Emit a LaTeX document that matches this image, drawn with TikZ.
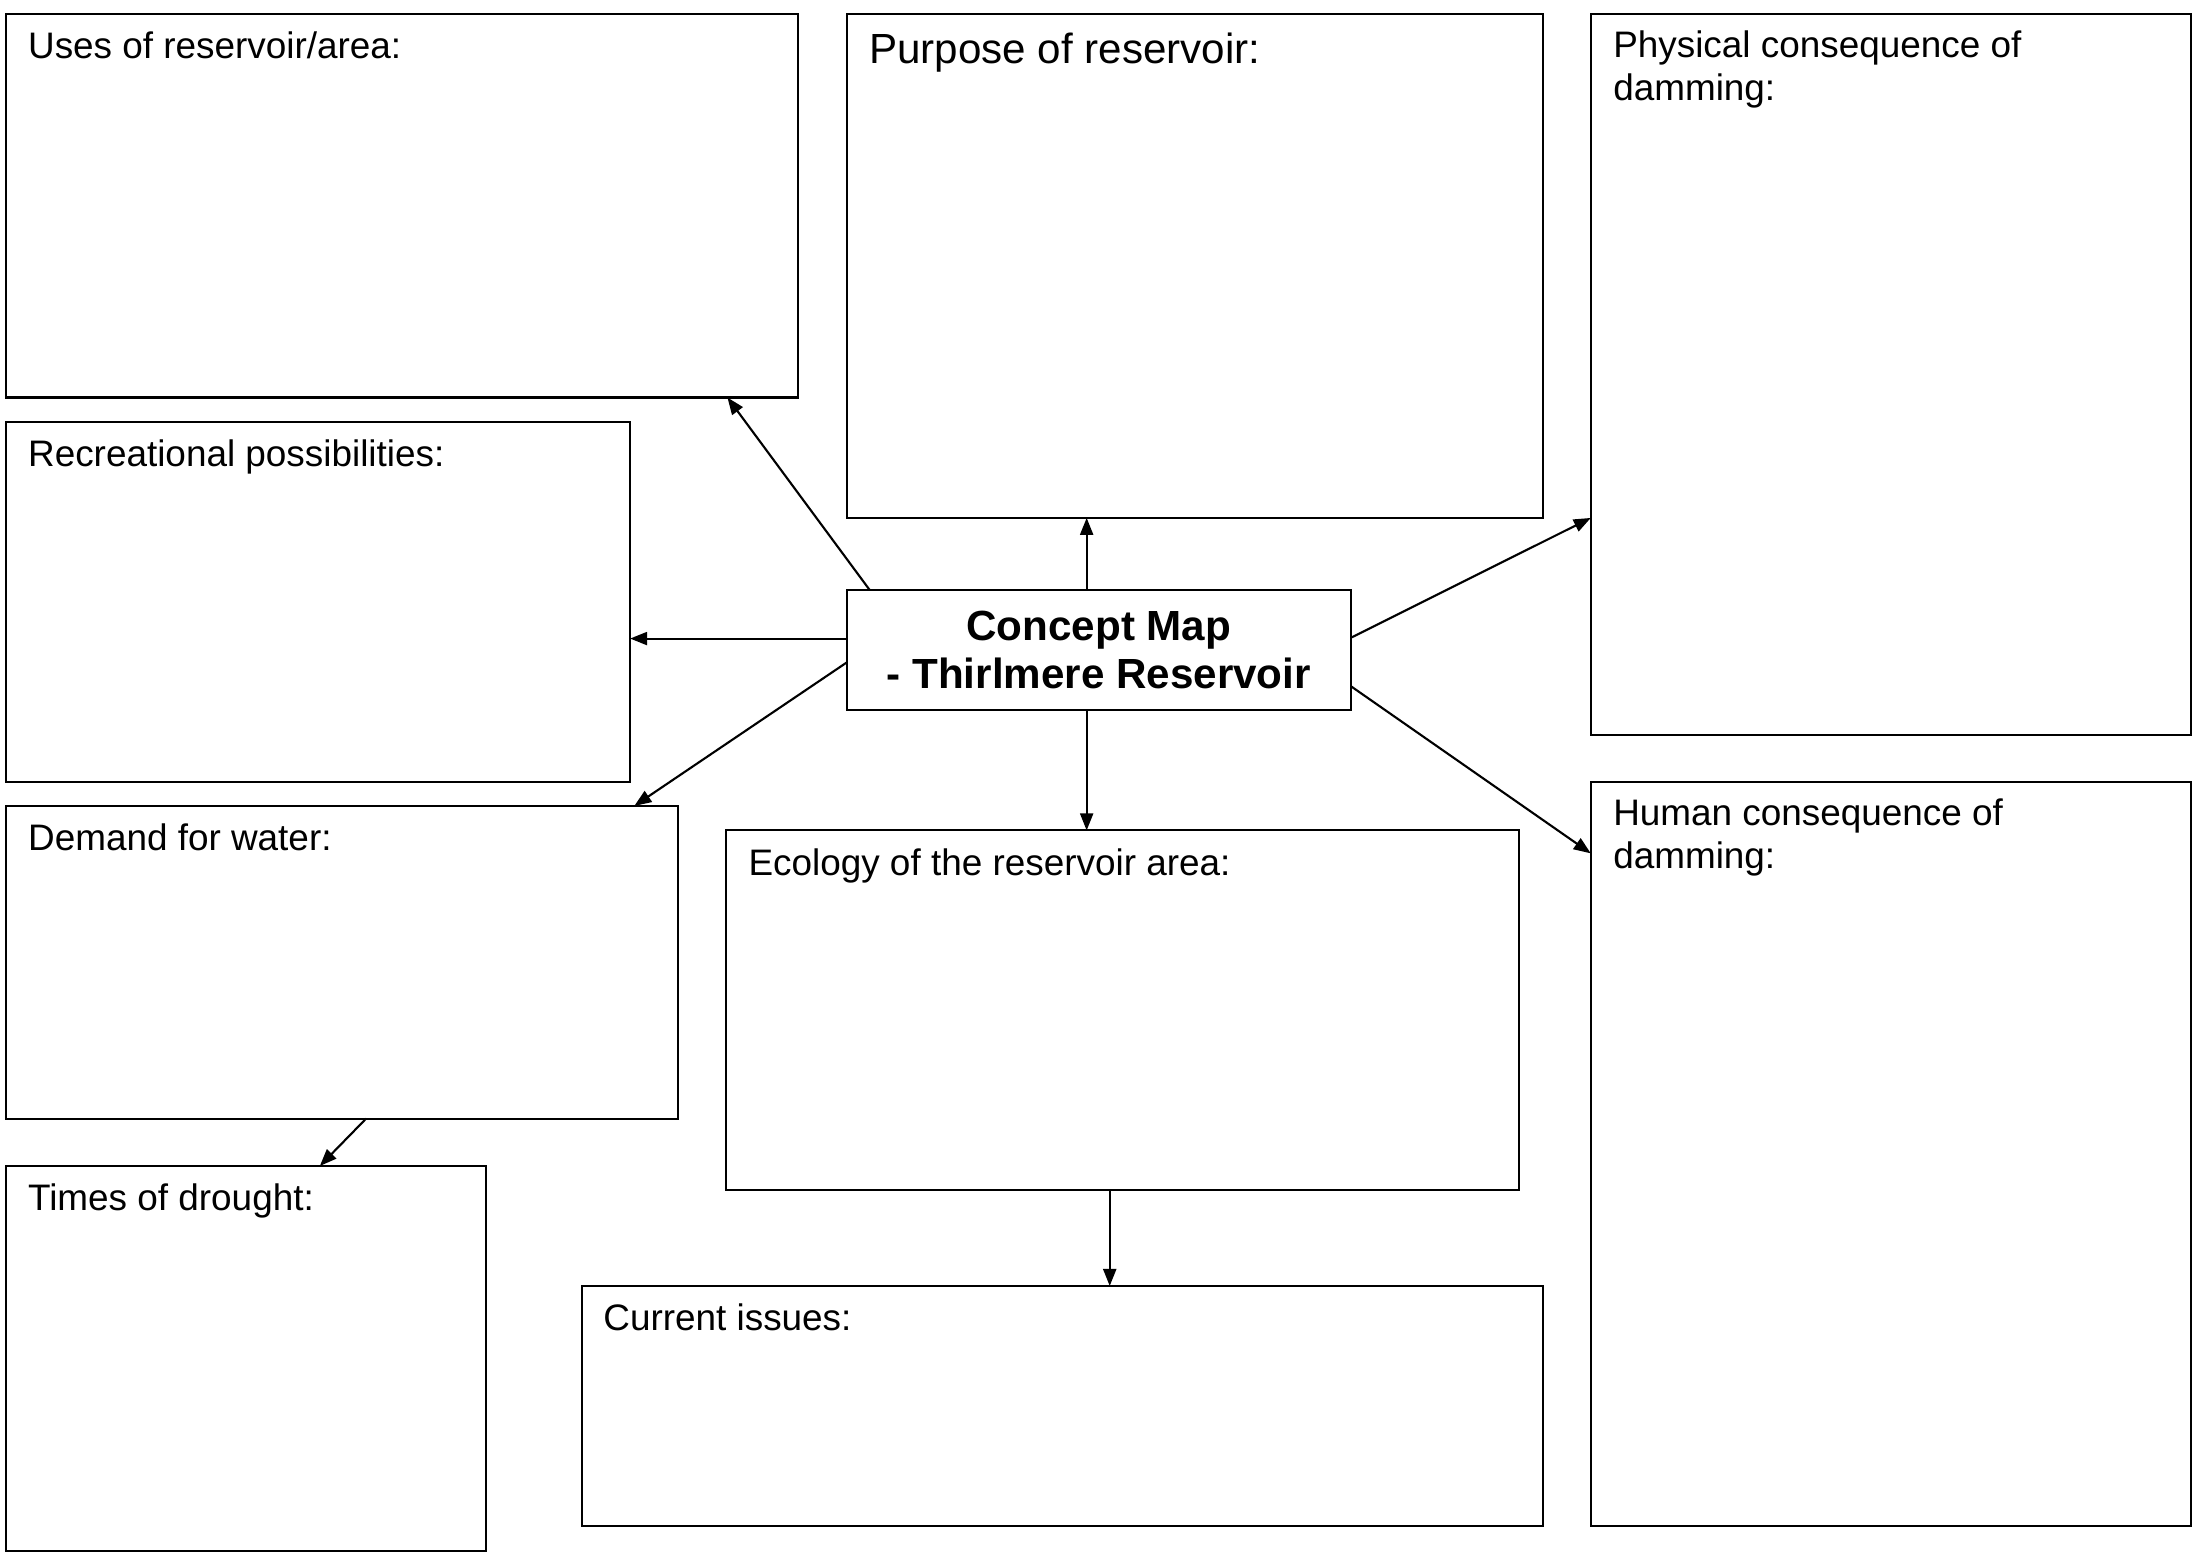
\documentclass[tikz,border=0pt]{standalone}
\usepackage{fontspec}
\setmainfont{Liberation Sans}
\usetikzlibrary{arrows.meta,calc}
\def\uu{0.014065cm}
\newcommand\mkbox[5]{\node[bx, minimum width={(#4-#2)*\uu}, minimum height={(#5-#3)*\uu}] (#1) at ({(#2+#4)/2},{(#3+#5)/2}) {};}
\begin{document}
\begin{tikzpicture}[x=\uu, y=-\uu,
  bx/.style={draw, line width=0.6pt, inner sep=0pt, outer sep=0pt},
  lbl/.style={font=\fontsize{10.5}{12.2}\selectfont, inner sep=0pt, outer sep=0pt, align=left, anchor=base west},
  arr/.style={line width=0.6pt, -{Triangle[length=0.17cm,width=0.13cm]}}]
\useasboundingbox (0,0) rectangle (1564.9,1108.4);
\mkbox{uses}{4}{9.8}{567.6}{282.6}
\mkbox{purpose}{602}{9.8}{1097}{368.2}
\mkbox{physical}{1131}{9.8}{1558}{522.3}
\mkbox{rec}{4}{300}{448}{556}
\mkbox{demand}{4}{573}{482.3}{795.3}
\mkbox{ecology}{516.2}{590.4}{1080}{846.1}
\mkbox{human}{1131}{555.9}{1558}{1084.8}
\mkbox{times}{4}{829}{345.6}{1102.5}
\mkbox{current}{414}{914.3}{1097}{1084.8}
\node[bx, align=center, font=\fontsize{12}{13.6}\selectfont\bfseries,
  minimum width={358.5*\uu}, minimum height={85.2*\uu}] (cm) at (781.25,462.3)
  {Concept Map\\- Thirlmere Reservoir};
\node[lbl] (usesT) at ($(uses.north west)+(16,32)$) {Uses of reservoir/area:};
\node[lbl, font=\fontsize{12}{14}\selectfont] (purposeT) at ($(purpose.north west)+(16,35.5)$) {Purpose of reservoir:};
\node[lbl] (physicalT) at ($(physical.north west)+(16,61.5)$) {Physical consequence of\\damming:};
\node[lbl] (recT) at ($(rec.north west)+(16,32)$) {Recreational possibilities:};
\node[lbl] (demandT) at ($(demand.north west)+(16,32)$) {Demand for water:};
\node[lbl] (ecologyT) at ($(ecology.north west)+(16,32)$) {Ecology of the reservoir area:};
\node[lbl] (humanT) at ($(human.north west)+(16,61.6)$) {Human consequence of\\damming:};
\node[lbl] (timesT) at ($(times.north west)+(16,31.6)$) {Times of drought:};
\node[lbl] (currentT) at ($(current.north west)+(15,31.5)$) {Current issues:};
\draw[arr] ($(cm.north west)+(16.5,0)$) -- ($(uses.south east)+(-50.4,0)$);
\draw[arr] ($(cm.north west)+(170.6,0)$) coordinate (a2) -- (a2 |- purpose.south);
\draw[arr] ($(cm.west)+(0,-8.3)$) coordinate (a3) -- (a3 -| rec.east);
\draw[arr] ($(cm.west)+(0,8.7)$) -- ($(demand.north east)+(-31.3,0)$);
\draw[arr] ($(cm.south west)+(170.6,0)$) coordinate (a5) -- (a5 |- ecology.north);
\draw[arr] ($(cm.east)+(0,-8.9)$) -- ($(physical.west)+(0,102.2)$);
\draw[arr] ($(cm.east)+(0,25.6)$) -- ($(human.north west)+(0,50.8)$);
\draw[arr] ($(demand.south west)+(256.3,0)$) -- ($(times.north west)+(223.4,0)$);
\draw[arr] ($(ecology.south west)+(272.8,0)$) coordinate (a9) -- (a9 |- current.north);
\end{tikzpicture}
\end{document}
